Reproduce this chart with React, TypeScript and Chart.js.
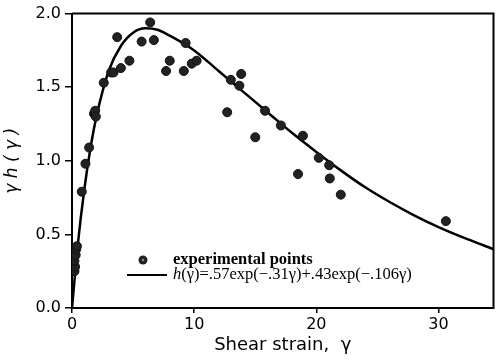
import React, { useEffect, useRef } from "react";
import { Chart, registerables } from "chart.js";

Chart.register(...registerables);

// Experimental points (shear strain, gamma*h(gamma))
const expX = [0.2, 0.25, 0.2, 0.3, 0.35, 0.4, 0.8, 1.1, 1.4, 1.8, 1.9, 1.95, 2.6, 3.2, 3.4, 3.7, 4.0, 4.7, 5.7, 6.4, 6.7, 7.7, 8.0, 9.15, 9.3, 9.8, 10.2, 12.7, 13.0, 13.7, 13.85, 15.0, 15.8, 17.1, 18.5, 18.9, 20.2, 21.05, 21.1, 22.0, 30.6];
const expY = [0.25, 0.28, 0.32, 0.36, 0.40, 0.42, 0.79, 0.98, 1.09, 1.32, 1.34, 1.30, 1.53, 1.60, 1.60, 1.84, 1.63, 1.68, 1.81, 1.94, 1.82, 1.61, 1.68, 1.61, 1.80, 1.66, 1.68, 1.33, 1.55, 1.51, 1.59, 1.16, 1.34, 1.24, 0.91, 1.17, 1.02, 0.97, 0.88, 0.77, 0.59];

// Fitted curve
const fitX = [0, 0.5, 1, 1.5, 2, 3, 4, 5, 6, 7, 8, 10, 12, 14, 16, 18, 20, 22, 24, 26, 28, 30, 32, 34.5];
const fitY = [0, 0.45, 0.80, 1.08, 1.30, 1.61, 1.78, 1.87, 1.90, 1.89, 1.85, 1.75, 1.61, 1.47, 1.33, 1.19, 1.06, 0.935, 0.82, 0.72, 0.63, 0.55, 0.48, 0.40];

const xTicks = [0, 10, 20, 30];
const yTicks = [0, 0.5, 1.0, 1.5, 2.0];

const labelPoints = "experimental points";
const labelFit = "h(γ)=.57exp(−.31γ)+.43exp(−.106γ)";

const framePlugin = {
  id: "frame",
  afterDraw(chart: any) {
    const { ctx, chartArea } = chart;
    const { left, right, top, bottom } = chartArea;
    ctx.save();
    ctx.strokeStyle = "#000";
    ctx.lineWidth = 2;
    ctx.beginPath();
    ctx.moveTo(left, top);
    ctx.lineTo(right, top);
    ctx.lineTo(right, bottom);
    ctx.stroke();

    // legend inside the plot area
    const lx = left + 71;
    const ly1 = bottom - 48;
    const ly2 = bottom - 33;
    const tx = left + 101;
    ctx.fillStyle = "#222";
    ctx.beginPath();
    ctx.arc(lx, ly1, 4.5, 0, Math.PI * 2);
    ctx.fill();
    ctx.fillStyle = "#888";
    ctx.beginPath();
    ctx.arc(lx, ly1, 1.2, 0, Math.PI * 2);
    ctx.fill();
    ctx.strokeStyle = "#000";
    ctx.lineWidth = 2;
    ctx.beginPath();
    ctx.moveTo(left + 55, ly2);
    ctx.lineTo(left + 95, ly2);
    ctx.stroke();
    ctx.fillStyle = "#000";
    ctx.textBaseline = "middle";
    ctx.textAlign = "left";
    ctx.font = "bold 16.5px 'Liberation Serif'";
    ctx.fillText(chart.data.datasets[0].label, tx, ly1);
    const fitLabel: string = chart.data.datasets[1].label;
    ctx.font = "italic 16.5px 'Liberation Serif'";
    ctx.fillText(fitLabel.charAt(0), tx, ly2);
    const w = ctx.measureText(fitLabel.charAt(0)).width;
    ctx.font = "16.5px 'Liberation Serif'";
    ctx.fillText(fitLabel.slice(1), tx + w, ly2);
    ctx.restore();
  },
};

export default function App() {
  const ref = useRef<HTMLCanvasElement | null>(null);
  useEffect(() => {
    if (!ref.current) return;
    const chart = new Chart(ref.current, {
      type: "scatter",
      data: {
        datasets: [
          {
            label: labelPoints,
            data: expX.map((x, i) => ({ x, y: expY[i] })),
            backgroundColor: "#222",
            borderColor: "#111",
            borderWidth: 1,
            pointRadius: 4.5,
            showLine: false,
          },
          {
            label: labelFit,
            data: fitX.map((x, i) => ({ x, y: fitY[i] })),
            showLine: true,
            borderColor: "#000",
            borderWidth: 2.5,
            pointRadius: 0,
            cubicInterpolationMode: "monotone",
            fill: false,
          },
        ],
      },
      options: {
        responsive: false,
        animation: false,
        layout: { padding: { top: 11, right: 2, left: 0, bottom: 0 } },
        plugins: { legend: { display: false }, tooltip: { enabled: false } },
        scales: {
          x: {
            type: "linear",
            min: 0,
            max: 34.5,
            afterBuildTicks: (s: any) => {
              s.ticks = xTicks.map((v) => ({ value: v }));
            },
            afterFit: (s: any) => {
              s.height = 53;
            },
            grid: { drawOnChartArea: false, drawTicks: true, tickLength: 5, color: "#000", lineWidth: 1.5 },
            border: { display: true, color: "#000", width: 2 },
            ticks: { color: "#000", font: { family: "DejaVu Sans", size: 16 }, padding: 2, maxRotation: 0 },
            title: {
              display: true,
              text: "Shear strain,  γ",
              color: "#000",
              font: { family: "DejaVu Sans", size: 18 },
              padding: { top: 0, bottom: 5 },
            },
          },
          y: {
            type: "linear",
            min: 0,
            max: 2,
            afterBuildTicks: (s: any) => {
              s.ticks = yTicks.map((v) => ({ value: v }));
            },
            afterFit: (s: any) => {
              s.width = 72;
            },
            grid: { drawOnChartArea: false, drawTicks: true, tickLength: 7, color: "#000", lineWidth: 1.5 },
            border: { display: true, color: "#000", width: 2 },
            ticks: {
              color: "#000",
              font: { family: "DejaVu Sans", size: 16 },
              padding: 4,
              callback: (v: any) => Number(v).toFixed(1),
            },
            title: {
              display: true,
              text: "γ h ( γ )",
              color: "#000",
              font: { family: "DejaVu Sans", size: 17, style: "italic" },
              padding: { top: 2, bottom: 0 },
            },
          },
        },
      },
      plugins: [framePlugin],
    } as any);
    return () => chart.destroy();
  }, []);
  return (
    <div style={{ position: "fixed", left: 0, top: 0, width: 499, height: 361, background: "#fff" }}>
      <canvas ref={ref} width={499} height={361} style={{ display: "block" }} />
    </div>
  );
}
